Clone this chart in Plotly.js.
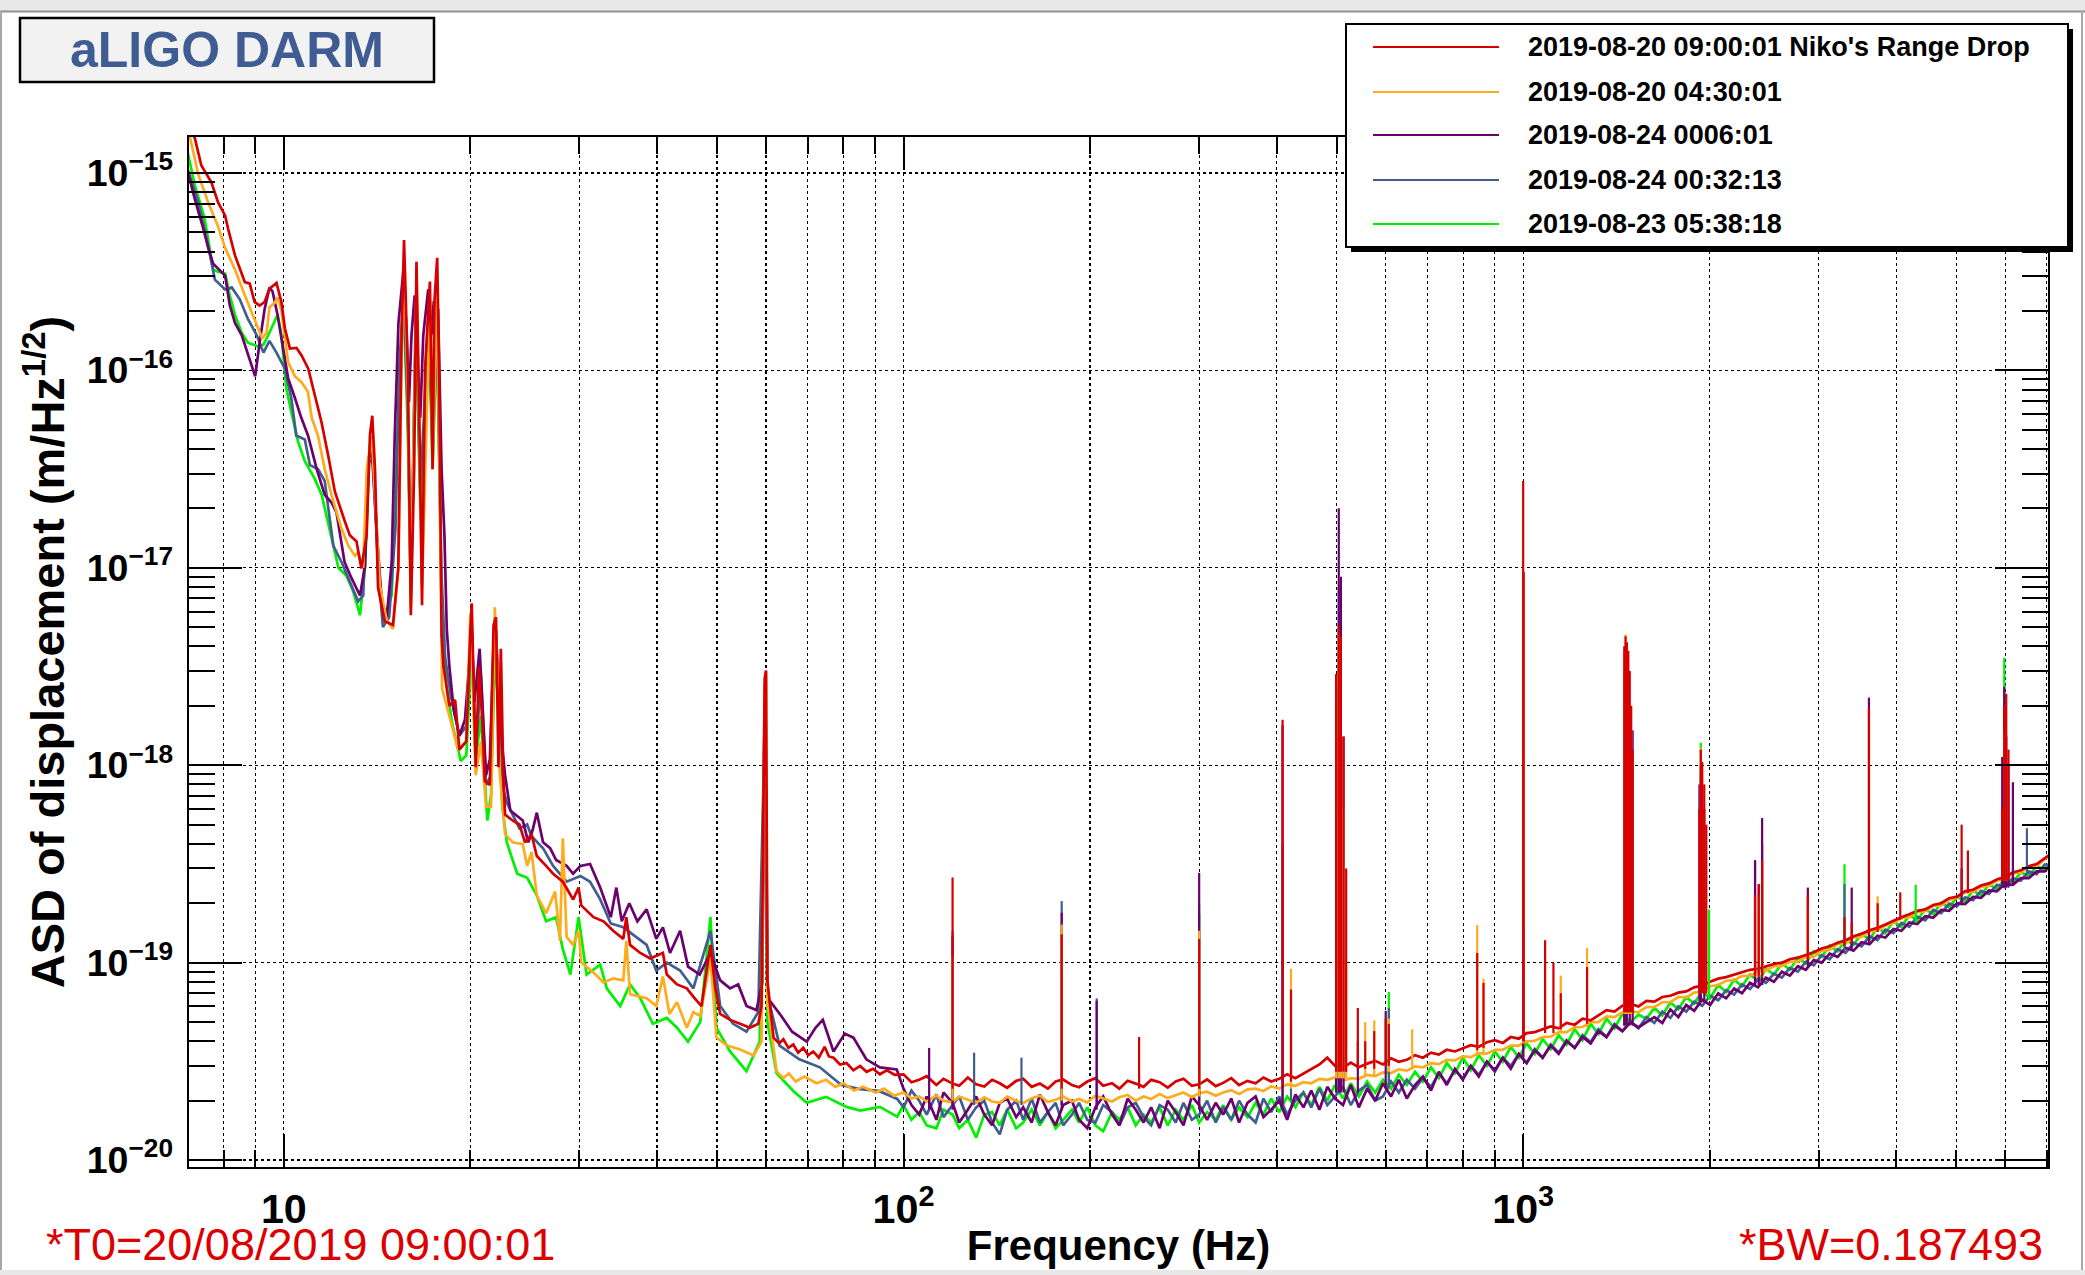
<!DOCTYPE html>
<html>
<head>
<meta charset="utf-8">
<script src="https://cdn.plot.ly/plotly-3.0.1.min.js"></script>
<style>
html, body { margin: 0; padding: 0; background: #fff; }
#graph { width: 2085px; height: 1275px; }
</style>
</head>
<body>
<div id="graph"></div>
<script>
// ASD values of the five DARM spectra

const seriesNames = [
  "2019-08-20 09:00:01 Niko's Range Drop",
  "2019-08-20 04:30:01",
  "2019-08-24 0006:01",
  "2019-08-24 00:32:13",
  "2019-08-23 05:38:18"
];
const seriesColors = ['#d60000', '#ffab1f', '#6c006c', '#405e90', '#00f000'];

// low frequency part, [Hz, m/rtHz]
const redLow = [[7.01,1.74e-15],[7.18,1.51e-15],[7.36,1.09e-15],[7.64,8.97e-16],[7.83,7.11e-16],[8.04,6.08e-16],[8.13,5.21e-16],[8.34,3.82e-16],[8.65,2.80e-16],[8.81,2.75e-16],[8.97,2.22e-16],[9.14,2.13e-16],[9.31,2.22e-16],[9.48,2.59e-16],[9.73,2.77e-16],[9.91,2.22e-16],[10.04,1.63e-16],[10.23,1.29e-16],[10.48,1.30e-16],[10.68,1.19e-16],[10.95,1.02e-16],[11.22,7.48e-17],[11.50,5.48e-17],[11.79,3.72e-17],[12.09,2.43e-17],[12.55,1.71e-17],[12.78,1.46e-17],[13.10,1.36e-17],[13.34,9.93e-18],[13.60,1.46e-17],[13.77,4.68e-17],[13.89,5.89e-17],[14.03,3.18e-17],[14.19,7.94e-18],[14.55,5.37e-18],[15.0,5.13e-18],[15.30,1.0e-17],[15.49,1.51e-16],[15.63,4.57e-16],[15.85,1.02e-16],[16.03,5.75e-18],[16.23,3.16e-17],[16.37,3.55e-16],[16.56,4.68e-17],[16.71,6.46e-18],[16.90,1.02e-16],[17.21,2.82e-16],[17.38,3.16e-17],[17.50,2.24e-16],[17.68,3.72e-16],[17.82,8.32e-17],[17.97,4.57e-18],[18.1,3.16e-18],[18.5,2.0e-18],[18.9,2.14e-18],[19.2,1.20e-18],[19.7,1.32e-18],[20.0,4.79e-18],[20.1,6.61e-18],[20.4,9.77e-19],[20.65,3.16e-18],[20.9,1.70e-18],[21.1,8.32e-19],[21.5,7.94e-19],[21.8,5.13e-18],[22.0,5.62e-18],[22.2,9.77e-19],[22.4,3.89e-18],[22.6,8.91e-19],[22.75,5.62e-19],[23.4,5.25e-19],[24.0,5.01e-19],[24.5,4.07e-19],[25.1,4.47e-19],[25.6,3.47e-19],[26.5,3.09e-19],[27.2,2.82e-19],[28.2,2.57e-19],[29.3,2.09e-19],[29.9,2.40e-19],[30.2,1.95e-19],[31.6,1.70e-19],[32.8,1.62e-19],[34.0,1.45e-19],[35.3,1.32e-19],[35.7,1.70e-19],[36.2,1.23e-19],[37.6,1.12e-19],[39.0,1.05e-19],[40.9,1.12e-19],[41.5,8.71e-20],[43.1,7.76e-20],[44.7,7.41e-20],[46.0,6.61e-20],[47.2,6.03e-20],[48.8,1.23e-19],[49.7,7.41e-20],[50.6,5.50e-20],[52.5,5.13e-20],[54.5,4.90e-20],[56.5,4.68e-20],[58.3,4.90e-20],[59.0,6.03e-20],[59.7,2.75e-18],[60.0,3.02e-18],[60.3,8.13e-20],[61.7,4.17e-20],[63.0,3.9e-20],[64.0,4.1e-20],[65.2,3.7e-20],[66.4,3.85e-20],[67.6,3.5e-20],[68.9,3.7e-20],[70.2,3.4e-20],[71.5,3.55e-20],[73.0,3.3e-20],[74.6,3.75e-20],[75.8,3.35e-20],[77.1,3.3e-20],[79.0,3.05e-20],[80.9,3.1e-20],[83.0,2.85e-20],[85.1,3.0e-20],[87.2,2.8e-20],[89.3,2.9e-20],[91.6,2.72e-20],[94.0,2.85e-20],[96.8,2.7e-20]];

const orangeLow = [[7.01,1.66e-15],[7.28,9.77e-16],[7.55,7.08e-16],[7.83,5.37e-16],[8.04,4.17e-16],[8.34,3.24e-16],[8.65,2.40e-16],[8.97,1.82e-16],[9.23,1.45e-16],[9.38,1.55e-16],[9.48,2.09e-16],[9.66,2.19e-16],[9.77,2.34e-16],[9.91,2.0e-16],[10.16,1.10e-16],[10.42,9.33e-17],[10.68,8.71e-17],[10.94,7.76e-17],[11.09,5.75e-17],[11.35,4.68e-17],[11.64,3.16e-17],[11.94,2.34e-17],[12.39,1.58e-17],[12.71,1.29e-17],[13.03,1.15e-17],[13.18,1.20e-17],[13.43,1.0e-17],[13.61,3.16e-17],[13.87,4.68e-17],[14.03,2.34e-17],[14.29,8.13e-18],[14.66,5.37e-18],[15.0,4.90e-18],[15.31,1.0e-17],[15.49,1.26e-16],[15.63,3.55e-16],[15.85,7.94e-17],[16.03,6.31e-18],[16.37,2.82e-16],[16.71,7.94e-18],[17.21,2.24e-16],[17.38,3.16e-17],[17.68,2.82e-16],[17.97,4.47e-18],[18.0,2.45e-18],[18.5,1.78e-18],[19.1,1.20e-18],[19.7,1.32e-18],[20.0,5.89e-18],[20.4,8.91e-19],[20.8,1.32e-18],[21.2,6.17e-19],[21.6,6.17e-19],[21.9,6.31e-18],[22.1,3.16e-18],[22.3,9.33e-19],[22.75,4.47e-19],[23.4,4.07e-19],[24.3,3.98e-19],[24.7,3.09e-19],[25.1,3.63e-19],[25.6,2.19e-19],[26.5,1.78e-19],[27.4,2.29e-19],[27.9,1.29e-19],[28.2,4.27e-19],[28.6,1.35e-19],[29.3,1.23e-19],[29.9,1.45e-19],[30.2,1.0e-19],[31.6,8.91e-20],[32.8,7.94e-20],[34.0,8.32e-20],[35.3,8.13e-20],[35.7,1.29e-19],[36.2,6.92e-20],[38.5,6.61e-20],[39.9,6.03e-20],[40.9,8.51e-20],[41.9,5.50e-20],[43.1,6.31e-20],[44.7,4.68e-20],[45.8,5.62e-20],[47.0,5.37e-20],[48.8,1.05e-19],[49.9,4.17e-20],[51.9,3.80e-20],[54.5,3.63e-20],[57.3,3.39e-20],[59.0,3.98e-20],[59.7,2.51e-18],[60.0,2.95e-18],[60.3,6.31e-20],[62.4,2.82e-20],[64.0,2.6e-20],[65.3,2.75e-20],[67.0,2.5e-20],[69.2,2.65e-20],[72.4,2.45e-20],[75.0,2.55e-20],[77.6,2.35e-20],[80.0,2.45e-20],[83.2,2.25e-20],[86.0,2.35e-20],[90.2,2.2e-20],[93.0,2.3e-20],[96.5,2.12e-20]];

const purpleLow = [[6.97,1.07e-15],[7.18,7.41e-16],[7.41,5.25e-16],[7.55,4.17e-16],[7.69,3.47e-16],[7.94,3.16e-16],[8.04,3.02e-16],[8.18,2.14e-16],[8.34,1.74e-16],[8.55,1.51e-16],[8.75,1.20e-16],[8.99,9.33e-17],[9.14,1.38e-16],[9.31,2.04e-16],[9.48,2.63e-16],[9.59,2.51e-16],[9.77,1.91e-16],[9.98,1.29e-16],[10.16,9.12e-17],[10.42,7.24e-17],[10.67,5.75e-17],[10.94,4.68e-17],[11.30,3.16e-17],[11.64,2.34e-17],[11.94,2.14e-17],[12.16,1.91e-17],[12.53,1.07e-17],[12.85,8.91e-18],[13.27,7.24e-18],[13.52,1.02e-17],[13.71,3.63e-17],[13.87,3.89e-17],[14.13,1.48e-17],[14.39,6.76e-18],[14.66,5.62e-18],[14.93,1.07e-17],[15.10,4.68e-17],[15.31,1.74e-16],[15.60,3.24e-16],[15.78,1.51e-16],[15.92,6.92e-17],[16.07,1.51e-16],[16.26,2.40e-16],[16.44,1.02e-16],[16.60,5.75e-17],[16.79,1.51e-16],[17.10,2.57e-16],[17.30,1.51e-16],[17.46,2.24e-16],[17.74,2.04e-16],[17.97,3.16e-17],[18.16,1.48e-17],[18.32,4.90e-18],[18.5,3.16e-18],[18.8,1.91e-18],[19.2,1.41e-18],[19.6,1.70e-18],[19.9,3.16e-18],[20.1,4.79e-18],[20.3,2.09e-18],[20.7,3.89e-18],[21.2,8.91e-19],[21.5,1.07e-18],[21.8,3.98e-18],[22.0,4.79e-18],[22.3,1.70e-18],[22.75,8.91e-19],[23.2,5.89e-19],[23.8,5.50e-19],[24.3,5.25e-19],[24.8,4.07e-19],[25.2,4.68e-19],[25.6,5.75e-19],[26.2,4.07e-19],[26.9,3.80e-19],[27.5,3.31e-19],[28.6,3.09e-19],[29.3,2.82e-19],[30.1,3.09e-19],[31.2,3.16e-19],[32.4,2.40e-19],[33.7,1.70e-19],[34.4,2.40e-19],[35.1,1.62e-19],[36.1,2.0e-19],[37.2,1.62e-19],[38.5,1.86e-19],[39.9,1.32e-19],[40.9,1.51e-19],[42.0,1.12e-19],[43.6,1.45e-19],[44.9,9.55e-20],[46.9,8.71e-20],[48.8,1.12e-19],[50.6,8.13e-20],[52.5,7.41e-20],[54.1,7.76e-20],[55.8,6.03e-20],[57.9,5.75e-20],[59.2,7.94e-20],[59.6,1.38e-18],[59.8,1.58e-18],[60.4,6.61e-20],[63.5,5.37e-20],[66.1,4.47e-20],[69.8,3.98e-20],[72.1,4.68e-20],[74.1,5.13e-20],[77.1,3.55e-20],[80.4,4.37e-20],[83.0,4.17e-20],[87.1,3.24e-20],[91.6,2.95e-20],[97.5,2.88e-20]];

const blueLow = [[6.99,1.05e-15],[7.28,7.08e-16],[7.55,4.27e-16],[7.74,2.88e-16],[8.04,2.57e-16],[8.24,2.63e-16],[8.49,2.29e-16],[8.75,1.82e-16],[9.04,1.51e-16],[9.27,1.23e-16],[9.48,1.41e-16],[9.73,1.23e-16],[10.04,1.02e-16],[10.28,7.24e-17],[10.47,4.68e-17],[10.81,4.47e-17],[11.02,3.31e-17],[11.35,3.16e-17],[11.64,2.75e-17],[12.02,1.29e-17],[12.39,1.07e-17],[12.85,8.13e-18],[13.18,6.76e-18],[13.43,7.24e-18],[13.68,3.47e-17],[13.93,3.47e-17],[14.19,1.02e-17],[14.45,5.01e-18],[14.79,5.62e-18],[15.14,1.58e-17],[15.35,1.0e-16],[15.6,2.51e-16],[15.85,6.31e-17],[16.03,7.94e-18],[16.33,2.0e-16],[16.6,2.51e-17],[17.14,1.78e-16],[17.38,3.98e-17],[17.66,1.78e-16],[17.95,1.0e-17],[18.2,3.55e-18],[18.6,2.24e-18],[19.2,1.41e-18],[19.7,1.58e-18],[20.1,5.01e-18],[20.4,1.12e-18],[20.8,2.82e-18],[21.2,7.94e-19],[21.6,8.91e-19],[21.9,5.62e-18],[22.2,2.51e-18],[22.5,7.94e-19],[22.9,6.46e-19],[24.0,4.79e-19],[24.7,5.01e-19],[25.1,4.37e-19],[26.2,3.80e-19],[27.2,3.09e-19],[28.6,2.57e-19],[30.1,2.75e-19],[31.2,2.57e-19],[32.4,2.09e-19],[33.7,1.58e-19],[35.3,1.51e-19],[36.6,1.38e-19],[38.5,1.23e-19],[39.9,9.12e-20],[41.5,1.0e-19],[43.6,9.12e-20],[45.8,7.41e-20],[48.8,1.45e-19],[50.6,6.03e-20],[53.1,4.90e-20],[55.8,4.47e-20],[58.3,5.62e-20],[59.7,1.58e-18],[60.3,6.92e-20],[63.1,3.80e-20],[67.9,3.24e-20],[73.3,2.95e-20],[79.4,2.40e-20],[85.1,2.29e-20],[91.2,2.24e-20],[97.7,2.04e-20]];

const greenLow = [[6.99,1.29e-15],[7.18,8.71e-16],[7.45,5.89e-16],[7.69,3.24e-16],[7.83,3.16e-16],[8.04,3.09e-16],[8.18,2.40e-16],[8.34,1.91e-16],[8.55,1.55e-16],[8.75,1.38e-16],[9.10,1.32e-16],[9.27,1.35e-16],[9.44,1.51e-16],[9.77,1.91e-16],[9.91,1.51e-16],[10.09,8.13e-17],[10.28,6.17e-17],[10.54,4.37e-17],[10.81,3.47e-17],[11.22,2.82e-17],[11.51,2.34e-17],[11.80,1.66e-17],[12.02,1.26e-17],[12.25,1.0e-17],[12.62,9.12e-18],[12.94,7.59e-18],[13.27,5.75e-18],[13.52,1.0e-17],[13.77,4.17e-17],[13.96,3.31e-17],[14.22,8.91e-18],[14.55,5.75e-18],[14.93,7.24e-18],[15.35,7.94e-17],[15.6,2.24e-16],[15.85,5.01e-17],[16.03,7.08e-18],[16.33,1.78e-16],[16.6,2.0e-17],[17.14,1.58e-16],[17.38,3.16e-17],[17.66,1.58e-16],[17.95,7.94e-18],[18.3,2.51e-18],[18.7,1.62e-18],[19.3,1.05e-18],[19.7,1.12e-18],[20.1,3.98e-18],[20.4,1.05e-18],[20.8,1.78e-18],[21.3,5.25e-19],[21.6,7.08e-19],[21.9,3.55e-18],[22.2,2.0e-18],[22.5,6.31e-19],[22.9,4.07e-19],[23.8,2.82e-19],[24.7,2.69e-19],[25.6,2.19e-19],[26.5,1.62e-19],[27.5,1.70e-19],[28.2,1.17e-19],[29.0,8.71e-20],[29.9,1.70e-19],[30.8,8.71e-20],[32.4,9.77e-20],[33.2,7.41e-20],[34.9,6.03e-20],[36.2,7.76e-20],[37.6,6.61e-20],[39.4,4.90e-20],[41.5,5.25e-20],[43.1,4.68e-20],[44.9,3.98e-20],[47.0,5.01e-20],[48.8,1.70e-19],[49.9,4.68e-20],[52.5,3.55e-20],[55.8,2.82e-20],[58.6,3.98e-20],[59.7,1.26e-18],[60.3,5.01e-20],[62.4,2.75e-20],[66.4,2.24e-20],[69.8,1.95e-20],[75.0,2.09e-20],[80.9,1.86e-20],[85.1,1.78e-20],[91.6,1.86e-20],[97.7,1.66e-20]];

// broadband part, common frequency grid [Hz], values in units of 1e-20 m/rtHz
const UNIT = 1e-20;
const bandFreq = [
  100, 103, 106, 109, 113, 116, 120, 123, 127, 131,
  135, 139, 143, 147, 152, 156, 161, 166, 171, 176,
  181, 187, 192, 198, 204, 210, 217, 223, 230, 237,
  244, 251, 259, 267, 275, 283, 292, 300, 309, 319,
  328, 338, 348, 359, 370, 381, 392, 404, 416, 429,
  442, 455, 469, 483, 497, 512, 527, 543, 560, 577,
  594, 612, 630, 649, 669, 689, 710, 731, 753, 776,
  799, 823, 848, 874, 900, 927, 955, 984, 1013, 1044,
  1075, 1108, 1141, 1175, 1211, 1247, 1285, 1323, 1363, 1404,
  1446, 1490, 1535, 1581, 1628, 1677, 1728, 1780, 1833, 1888,
  1945, 2003, 2064, 2126, 2190, 2255, 2323, 2393, 2465, 2539,
  2615, 2694, 2775, 2858, 2944, 3032, 3123, 3217, 3314, 3413,
  3516, 3622, 3730, 3842, 3958, 4077, 4199, 4325, 4455, 4589,
  4727, 4869, 5015, 5165, 5321, 5480, 5645, 5814, 5989, 6169,
  6354, 6545, 6741, 6944, 7100
];
const bandRed = [
  2.72, 2.48, 2.55, 2.66, 2.4, 2.58, 2.44, 2.38, 2.62, 2.42,
  2.36, 2.55, 2.45, 2.32, 2.52, 2.58, 2.35, 2.44, 2.3, 2.5,
  2.56, 2.4, 2.34, 2.5, 2.6, 2.38, 2.45, 2.3, 2.52, 2.44,
  2.35, 2.55, 2.48, 2.33, 2.5, 2.58, 2.38, 2.42, 2.56, 2.37,
  2.46, 2.6, 2.4, 2.52, 2.45, 2.62, 2.5, 2.58, 2.72, 2.6,
  2.75, 2.9, 3.05, 3.3, 3.0, 2.92, 3.12, 2.95, 3.08, 3.18,
  3.05, 3.28, 3.15, 3.22, 3.4, 3.3, 3.5, 3.42, 3.62, 3.55,
  3.68, 3.82, 3.75, 3.95, 4.05, 3.92, 4.2, 4.12, 4.4, 4.45,
  4.6, 4.75, 4.65, 4.95, 4.85, 5.2, 5.1, 5.4, 5.75, 5.65,
  6.05, 6.2, 6.0, 6.4, 6.35, 6.7, 6.8, 7.05, 7.15, 7.5,
  7.65, 8.0, 8.3, 8.45, 8.7, 8.9, 9.2, 9.3, 9.6, 9.85,
  10.0, 10.4, 10.6, 10.9, 11.3, 11.8, 12.1, 12.6, 13.0, 13.6,
  14.0, 14.6, 15.0, 15.6, 16.3, 17.0, 17.6, 18.3, 18.6, 19.6,
  20.0, 21.2, 21.6, 23.0, 23.4, 24.6, 25.2, 26.4, 27.2, 28.6,
  29.4, 30.8, 31.6, 33.8, 35.5
];
const bandOrange = [
  2.2, 2.05, 2.1, 1.98, 2.12, 2.0, 1.96, 2.1, 2.02, 1.95,
  2.08, 1.98, 1.95, 2.1, 2.0, 1.94, 2.06, 2.12, 1.97, 2.02,
  2.1, 1.98, 2.04, 1.96, 2.12, 2.05, 1.98, 2.08, 2.14, 2.0,
  2.1, 2.04, 2.16, 2.06, 2.14, 2.2, 2.08, 2.18, 2.22, 2.12,
  2.2, 2.26, 2.16, 2.28, 2.3, 2.24, 2.36, 2.3, 2.42, 2.38,
  2.48, 2.45, 2.58, 2.55, 2.62, 2.52, 2.6, 2.58, 2.7, 2.66,
  2.78, 2.76, 2.88, 2.84, 2.98, 2.95, 3.1, 3.06, 3.22, 3.2,
  3.35, 3.32, 3.48, 3.46, 3.62, 3.62, 3.8, 3.8, 4.0, 4.02,
  4.2, 4.22, 4.45, 4.45, 4.7, 4.72, 5.0, 5.0, 5.35, 5.3,
  5.6, 5.65, 5.62, 5.95, 5.95, 6.3, 6.3, 6.7, 6.65, 7.05,
  7.1, 7.6, 7.7, 8.1, 8.15, 8.55, 8.6, 9.05, 9.1, 9.6,
  9.6, 10.1, 10.1, 10.7, 10.7, 11.5, 11.6, 12.4, 12.5, 13.4,
  13.5, 14.4, 14.5, 15.4, 15.9, 16.8, 17.0, 18.0, 18.2, 19.4,
  19.5, 20.8, 21.3, 22.7, 22.9, 24.2, 24.5, 26.0, 26.5, 28.2,
  28.6, 30.5, 30.8, 33.5, 35.0
];
const bandPurple = [
  2.3, 1.9, 1.7, 2.1, 1.6, 2.2, 1.95, 1.55, 1.8, 2.1,
  1.7, 1.5, 1.95, 2.05, 1.65, 1.85, 1.55, 2.15, 1.75, 1.5,
  1.9, 2.0, 1.6, 1.45, 1.85, 2.1, 1.7, 1.5, 2.05, 1.8,
  1.55, 1.85, 1.45, 2.0, 1.75, 1.5, 2.1, 1.9, 1.6, 1.95,
  1.7, 2.05, 1.55, 1.95, 2.1, 1.65, 1.8, 2.0, 1.6, 2.15,
  1.85, 2.25, 1.8, 2.35, 2.05, 1.9, 2.4, 1.85, 2.3, 2.0,
  2.45, 2.1, 2.55, 2.05, 2.4, 2.65, 2.25, 2.8, 2.4, 2.9,
  2.55, 3.0, 2.65, 3.15, 2.85, 3.3, 2.9, 3.45, 3.1, 3.6,
  3.3, 3.8, 3.45, 4.0, 3.7, 4.2, 3.9, 4.5, 4.2, 4.8,
  4.5, 5.0, 4.7, 5.0, 5.3, 4.95, 5.8, 5.3, 6.1, 5.7,
  6.5, 6.1, 7.0, 6.6, 7.4, 7.0, 7.9, 7.5, 8.4, 8.0,
  9.0, 8.6, 9.6, 9.2, 10.3, 10.0, 11.1, 10.7, 11.9, 11.5,
  12.7, 12.4, 13.7, 13.4, 14.8, 14.5, 16.0, 15.7, 17.2, 16.9,
  18.5, 18.3, 20.0, 19.8, 21.5, 21.3, 23.2, 23.0, 25.0, 24.8,
  26.8, 26.8, 29.0, 29.0, 31.2
];
const bandBlue = [
  1.85, 2.25, 2.0, 1.7, 2.15, 1.65, 1.9, 2.1, 1.6, 1.85,
  2.0, 1.55, 1.35, 1.8, 2.0, 1.6, 2.05, 1.55, 1.75, 1.95,
  1.5, 1.7, 1.95, 1.6, 1.55, 1.9, 1.75, 1.5, 1.85, 1.95,
  1.65, 1.5, 1.9, 1.8, 1.55, 1.95, 1.6, 1.7, 2.0, 1.55,
  1.85, 1.6, 2.0, 1.7, 1.55, 2.05, 1.75, 2.1, 1.7, 2.0,
  2.2, 1.85, 2.3, 1.9, 2.1, 2.35, 1.9, 2.25, 2.4, 2.0,
  2.1, 2.5, 2.2, 2.55, 2.3, 2.6, 2.35, 2.75, 2.45, 2.85,
  2.6, 3.0, 2.7, 3.15, 2.8, 3.3, 3.0, 3.45, 3.1, 3.65,
  3.3, 3.85, 3.5, 4.05, 3.7, 4.3, 3.95, 4.6, 4.2, 4.9,
  4.5, 5.0, 4.65, 5.3, 4.95, 5.65, 5.25, 6.0, 5.65, 6.35,
  6.05, 6.8, 6.45, 7.25, 6.9, 7.75, 7.35, 8.25, 7.9, 8.8,
  8.4, 9.4, 9.0, 10.1, 9.7, 10.9, 10.4, 11.7, 11.2, 12.6,
  12.1, 13.6, 13.0, 14.7, 14.1, 15.9, 15.2, 17.1, 16.4, 18.5,
  17.8, 19.9, 19.3, 21.4, 20.7, 23.1, 22.3, 24.8, 24.1, 26.8,
  26.0, 29.0, 28.1, 31.4, 30.8
];
const bandGreen = [
  1.9, 1.6, 1.75, 1.5, 1.45, 1.8, 1.7, 1.45, 1.6, 1.3,
  1.7, 1.75, 1.5, 1.8, 1.45, 1.55, 1.8, 1.5, 1.75, 1.45,
  1.6, 1.8, 1.55, 1.85, 1.5, 1.4, 1.75, 1.6, 1.85, 1.5,
  1.7, 1.55, 1.85, 1.5, 1.8, 1.6, 1.9, 1.55, 1.75, 1.6,
  1.9, 1.6, 1.85, 1.65, 1.95, 1.7, 2.05, 1.75, 2.1, 1.85,
  2.2, 1.9, 2.35, 2.0, 2.4, 2.05, 2.45, 2.1, 2.5, 2.2,
  2.55, 2.3, 2.7, 2.4, 2.8, 2.5, 2.95, 2.6, 3.1, 2.75,
  3.3, 2.85, 3.4, 3.0, 3.55, 3.15, 3.75, 3.3, 3.9, 3.45,
  4.1, 3.65, 4.3, 3.85, 4.6, 4.05, 4.9, 4.35, 5.2, 4.65,
  5.5, 5.0, 5.45, 5.2, 5.9, 5.4, 6.3, 5.8, 6.7, 6.2,
  7.2, 6.6, 7.7, 7.1, 8.2, 7.6, 8.7, 8.1, 9.3, 8.7,
  9.9, 9.2, 10.6, 9.9, 11.4, 10.7, 12.2, 11.4, 13.1, 12.3,
  14.0, 13.1, 15.1, 14.1, 16.2, 15.2, 17.4, 16.4, 18.7, 17.6,
  20.1, 19.0, 21.6, 20.4, 23.2, 22.0, 24.9, 23.6, 26.7, 25.4,
  28.7, 27.4, 30.9, 29.5, 32.8
];

// narrow lines: [Hz, floor, peak], floor and peak in units of 1e-20 m/rtHz
const redLines = [[120,2.3,27],[180,2.3,13.9],[240,2.3,4.2],[300,2.3,13.2],[409,2.4,170],[422,2.5,7.3],[499,2.8,290],[504,2.8,510],[508,2.8,450],[513,2.8,140],[518,2.8,30],[541,2.9,5.9],[556,2.9,4],[575,2.9,4.5],[600,3.0,5.2],[607,3.0,4.9],[843,3.6,11.2],[863,3.7,7.9],[1000,4.0,2750],[1002,4.0,950],[1085,4.4,13],[1119,4.4,10],[1150,4.6,7.0],[1268,4.9,9.5],[1456,5.6,400],[1463,5.6,450],[1470,5.6,420],[1478,5.6,380],[1486,5.6,300],[1494,5.6,200],[1502,5.6,120],[1925,7.0,60],[1935,7.0,120],[1945,7.0,104],[1960,7.0,80],[1975,7.0,50],[2367,8.5,22],[2400,8.5,25],[2430,8.5,33],[2880,10.3,22],[3300,12.2,17],[3390,12.5,16],[3614,14,195],[3733,14.3,20],[4060,16.5,22.7],[5100,22,50],[5220,22.5,37],[5930,26,60],[5975,26,200],[6020,26,230],[6070,26,120]];
const orangeLines = [[120,2.0,10.7],[180,2.0,15.6],[300,2.1,14.5],[422,2.3,9.3],[499,2.6,280],[504,2.6,450],[508,2.6,300],[513,2.6,60],[518,2.6,10],[556,2.7,5.0],[575,2.7,5.1],[607,2.8,5.2],[662,2.9,4.6],[843,3.4,15.5],[863,3.4,8.3],[1000,3.9,950],[1150,4.4,8.6],[1268,4.7,11.9],[1456,5.5,380],[1463,5.5,460],[1470,5.5,350],[1478,5.5,300],[1486,5.5,200],[1494,5.5,150],[1935,7.0,123],[1945,7.0,90],[2367,8.5,18],[2400,8.5,22],[2430,8.5,28],[2880,10.5,19],[3733,14.4,21.7],[5975,26,150],[6020,26,100]];
const purpleLines = [[110,1.8,3.7],[120,1.8,13.6],[180,1.8,17.9],[205,1.8,6.4],[300,1.8,28.5],[409,1.9,160],[499,2.2,250],[504,2.2,2000],[508,2.2,900],[513,2.2,140],[541,2.2,4],[600,2.3,5.7],[1000,3.3,14],[1456,4.8,300],[1463,4.8,350],[1470,4.8,300],[1486,4.8,200],[1502,4.8,150],[1925,6.3,80],[1935,6.3,100],[1960,6.3,60],[2367,7.7,33],[2400,7.7,25],[2430,7.7,54],[2880,9.5,24],[3390,11.5,24],[3614,12.5,220],[5100,19.5,30],[5930,24,110],[5975,24,250],[6020,24,140],[6070,24,100],[6170,25,82]];
const blueLines = [[120,1.9,14.5],[130,1.9,3.5],[155,1.9,3.3],[180,1.9,20.5],[205,1.9,6.6],[300,1.9,17.8],[409,2.0,40],[422,2.0,5],[499,2.2,200],[504,2.2,800],[607,2.4,5.9],[1000,3.3,15],[1456,4.8,250],[1935,6.3,90],[2367,7.7,33],[2430,7.7,40],[3300,11.5,25],[5975,24,200],[6500,28,48]];
const greenLines = [[300,1.8,20],[499,2.2,220],[504,2.2,400],[607,2.4,7.1],[1000,3.3,25],[1456,4.8,300],[1935,6.3,130],[1995,6.5,18.6],[3300,12,31.5],[4300,16,24.8],[5975,24,350]];

const lowSets = [redLow, orangeLow, purpleLow, blueLow, greenLow];
const bandSets = [bandRed, bandOrange, bandPurple, bandBlue, bandGreen];
const lineSets = [redLines, orangeLines, purpleLines, blueLines, greenLines];

// draw green first, red last (red ends on top)
const drawOrder = [4, 3, 2, 1, 0];
const traces = [];
drawOrder.forEach(function (i) {
  traces.push({
    type: 'scatter', mode: 'lines', name: seriesNames[i],
    x: lowSets[i].map(p => p[0]).concat(bandFreq),
    y: lowSets[i].map(p => p[1]).concat(bandSets[i].map(v => v * UNIT)),
    line: { color: seriesColors[i], width: 2.7 },
    hoverinfo: 'skip', showlegend: false
  });
});
drawOrder.forEach(function (i) {
  const x = [], y = [];
  lineSets[i].forEach(function (l) {
    x.push(l[0], l[0], null);
    y.push(l[1] * UNIT, l[2] * UNIT, null);
  });
  traces.push({
    type: 'scatter', mode: 'lines', name: seriesNames[i],
    x: x, y: y, connectgaps: false,
    line: { color: seriesColors[i], width: 2.2 },
    hoverinfo: 'skip', showlegend: false
  });
});

// page geometry (pixels) of the frame
const L = 189, R = 2048, T = 137, B = 1167;
const px = v => (v - L) / (R - L);
const py = v => (B - v) / (B - T);
const FONT = 'Liberation Sans, Arial, Helvetica, sans-serif';

const shapes = [
  { type: 'rect', xref: 'paper', yref: 'paper', x0: px(0), x1: px(2085), y0: py(0), y1: py(11), fillcolor: '#e8e8e8', line: { width: 0 } },
  { type: 'line', xref: 'paper', yref: 'paper', x0: px(0), x1: px(2085), y0: py(11.5), y1: py(11.5), line: { color: '#909090', width: 2 } },
  { type: 'line', xref: 'paper', yref: 'paper', x0: px(1), x1: px(1), y0: py(11), y1: py(1270), line: { color: '#a8a8a8', width: 2 } },
  { type: 'line', xref: 'paper', yref: 'paper', x0: px(2082), x1: px(2082), y0: py(11), y1: py(1270), line: { color: '#a8a8a8', width: 2 } },
  { type: 'rect', xref: 'paper', yref: 'paper', x0: px(0), x1: px(2085), y0: py(1270), y1: py(1275), fillcolor: '#e8e8e8', line: { width: 0 } },
  // title box
  { type: 'rect', xref: 'paper', yref: 'paper', x0: px(20), x1: px(434), y0: py(18), y1: py(82), fillcolor: '#f2f2f2', line: { color: '#000', width: 2.5 } },
  // legend shadow and box
  { type: 'rect', xref: 'paper', yref: 'paper', x0: px(1351), x1: px(2073), y0: py(29), y1: py(252), fillcolor: '#000', line: { width: 0 } },
  { type: 'rect', xref: 'paper', yref: 'paper', x0: px(1346), x1: px(2068), y0: py(24), y1: py(247), fillcolor: '#fff', line: { color: '#000', width: 2 } }
];

const legendRows = [47, 92, 135, 180, 224];
const annotations = [
  { xref: 'paper', yref: 'paper', x: px(227), y: py(50), text: 'aLIGO DARM', showarrow: false,
    xanchor: 'center', yanchor: 'middle', font: { family: FONT, size: 50, weight: 'bold', color: '#3f5c93' } },
  { xref: 'paper', yref: 'paper', x: px(44), y: py(1244), text: '*T0=20/08/2019 09:00:01', showarrow: false,
    xanchor: 'left', yanchor: 'middle', font: { family: FONT, size: 45, color: '#dd0000' } },
  { xref: 'paper', yref: 'paper', x: px(2045), y: py(1244), text: '*BW=0.187493', showarrow: false,
    xanchor: 'right', yanchor: 'middle', font: { family: FONT, size: 45, color: '#dd0000' } }
];
seriesNames.forEach(function (name, i) {
  shapes.push({ type: 'line', xref: 'paper', yref: 'paper', x0: px(1373), x1: px(1499), y0: py(legendRows[i]), y1: py(legendRows[i]),
    line: { color: seriesColors[i], width: 2.2 } });
  annotations.push({ xref: 'paper', yref: 'paper', x: px(1526), y: py(legendRows[i]), text: name, showarrow: false,
    xanchor: 'left', yanchor: 'middle', font: { family: FONT, size: 27, weight: 'bold', color: '#000' } });
});

const gridStyle = { showgrid: true, gridcolor: '#000', griddash: 'dot', gridwidth: 1.2 };

const layout = {
  width: 2085, height: 1275,
  margin: { l: L, r: 2085 - R, t: T, b: 1275 - B, pad: 0 },
  paper_bgcolor: '#fff', plot_bgcolor: '#fff',
  font: { family: FONT, color: '#000' },
  showlegend: false,
  xaxis: Object.assign({
    type: 'log', range: [Math.log10(7.03), Math.log10(7030)], dtick: 1,
    exponentformat: 'power', showexponent: 'all',
    ticks: 'inside', ticklen: 33, tickwidth: 2, tickcolor: '#000',
    showline: true, linecolor: '#000', linewidth: 2, mirror: 'ticks', zeroline: false,
    tickfont: { family: FONT, size: 33, weight: 'bold', color: '#000' }, ticklabelstandoff: 6,
    minor: { dtick: 'D1', ticks: 'inside', ticklen: 17, tickwidth: 2, tickcolor: '#000',
      showgrid: true, gridcolor: '#000', griddash: 'dot', gridwidth: 1.2 },
    title: { text: 'Frequency (Hz)', font: { family: FONT, size: 42, weight: 'bold', color: '#000' }, standoff: 0 },
    automargin: false
  }, gridStyle),
  yaxis: Object.assign({
    type: 'log', range: [-20.035, -14.818], dtick: 1,
    exponentformat: 'power', showexponent: 'all',
    ticks: 'inside', ticklen: 53, tickwidth: 2, tickcolor: '#000',
    showline: true, linecolor: '#000', linewidth: 2, mirror: 'ticks', zeroline: false,
    tickfont: { family: FONT, size: 30, weight: 'bold', color: '#000' }, ticklabelstandoff: 8,
    minor: { dtick: 'D1', ticks: 'inside', ticklen: 26, tickwidth: 2, tickcolor: '#000', showgrid: false },
    title: { text: 'ASD of displacement (m/Hz<sup>1/2</sup>)', font: { family: FONT, size: 47, weight: 'bold', color: '#000' }, standoff: 7 },
    automargin: false
  }, gridStyle),
  shapes: shapes,
  annotations: annotations
};

Plotly.newPlot('graph', traces, layout, { displayModeBar: false, staticPlot: true });
</script>
</body>
</html>
